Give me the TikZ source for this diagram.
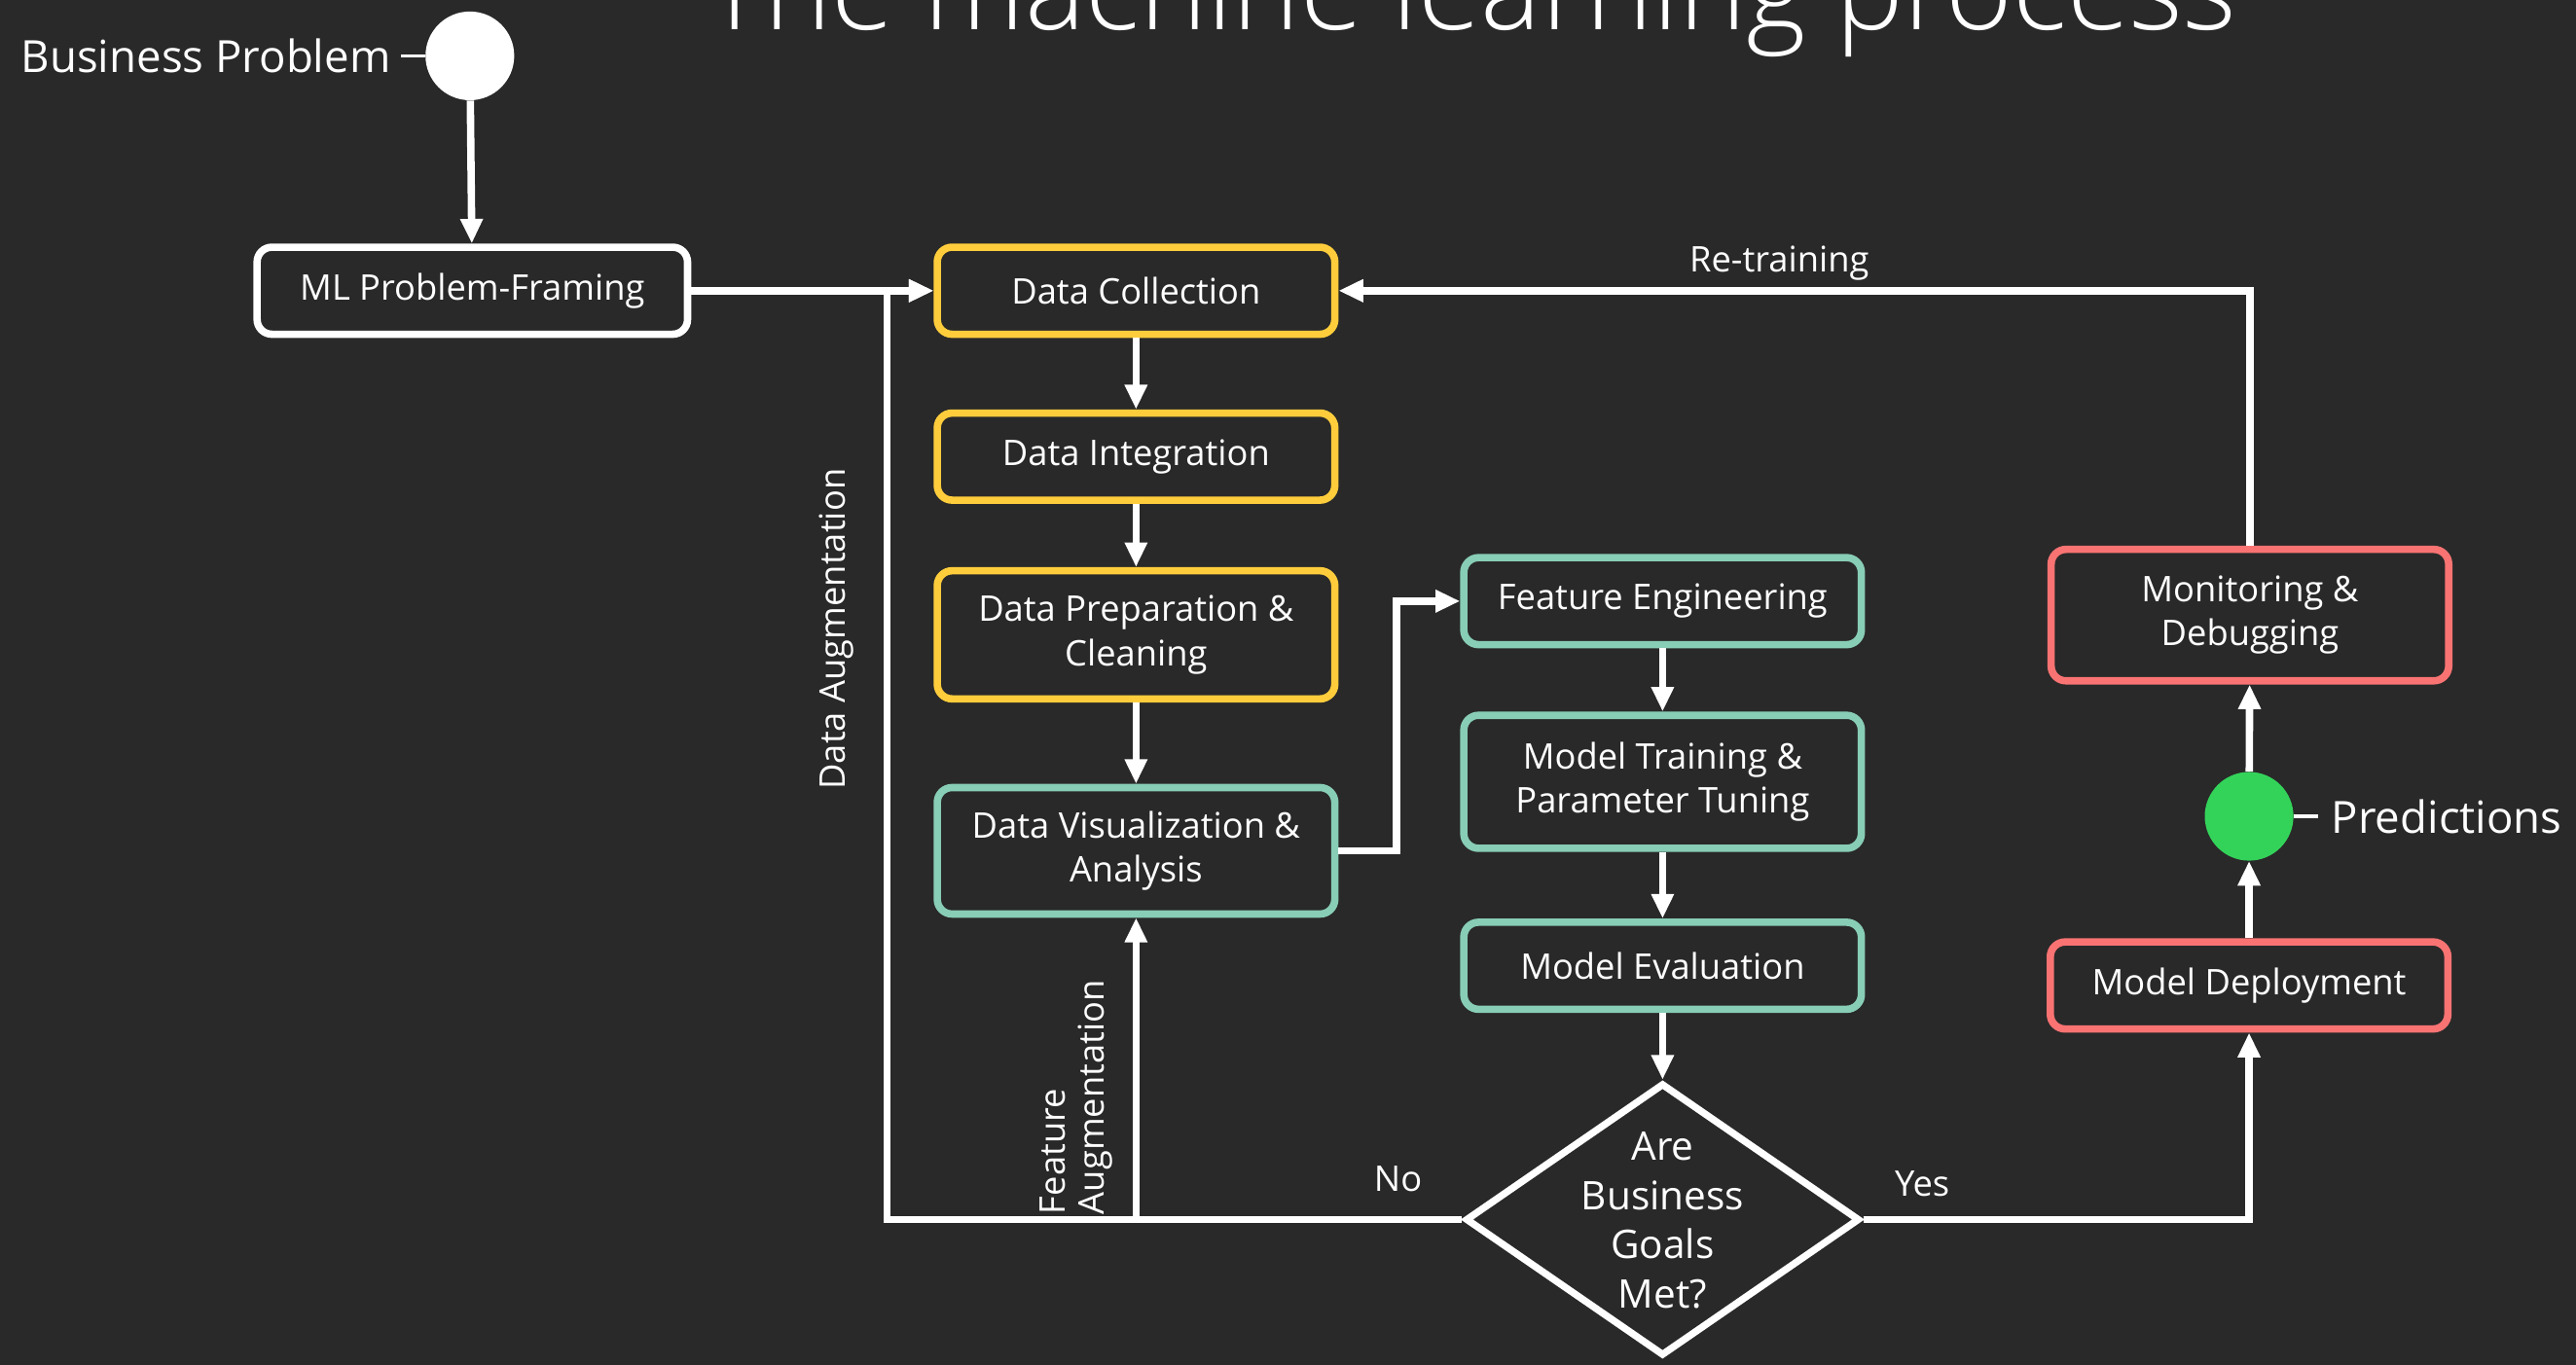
\documentclass[tikz,border=0pt]{standalone}
\usepackage{fontspec}
\setmainfont{Open Sans}
\IfFontExistsTF{Open Sans Light}{\newfontfamily\titlefont{Open Sans Light}}{\newfontfamily\titlefont{Open Sans}}
\usetikzlibrary{shapes.geometric,arrows.meta}
\definecolor{bg}{HTML}{292929}
\definecolor{ylw}{HTML}{FFCD3C}
\definecolor{tel}{HTML}{88CDB6}
\definecolor{rd}{HTML}{F97373}
\definecolor{grn}{HTML}{33D35A}
\begin{document}
\begin{tikzpicture}[x=1pt,y=-1pt,
  box/.style={draw=#1, line width=4.5pt, rounded corners=9pt, fill=bg, text=white,
    align=center, minimum width=242pt, inner sep=0pt, font=\fontsize{21.5}{27}\selectfont},
  conn/.style={white, line width=4.5pt, -{Triangle[length=15pt,width=13pt]}},
  lbl/.style={text=white, inner sep=0pt, font=\fontsize{21.5}{24}\selectfont},
  big/.style={text=white, inner sep=0pt, font=\fontsize{27}{30}\selectfont},
  dot/.style={circle, fill=#1, minimum size=54pt, inner sep=0pt}]
\path[use as bounding box] (0,0) rectangle (1568,831);
\clip (0,0) rectangle (1568,831);
\fill[bg] (0,0) rectangle (1568,831);

% title
\node[text=white, inner sep=0pt, anchor=base, font=\titlefont\fontsize{69.5}{74}\selectfont] (title) at (895,18) {The machine learning process};

% start
\node[dot=white] (bpc) at (286,34) {};
\node[big, anchor=east] (bpl) at (238,34) {Business Problem};
\draw[white, line width=2.2pt] ([xshift=6pt]bpl.east) -- (bpc.west);

% boxes
\node[box=white, minimum width=262pt, minimum height=53pt] (ml) at (287.5,177) {ML Problem-Framing};
\node[box=ylw, minimum height=53pt] (dc) at (691.5,177) {Data Collection};
\node[box=ylw, minimum height=53pt] (di) at (691.5,278) {Data Integration};
\node[box=ylw, minimum height=78pt] (dp) at (691.5,386.5) {Data Preparation \&\\Cleaning};
\node[box=tel, minimum height=77pt] (dv) at (691.5,518) {Data Visualization \&\\Analysis};
\node[box=tel, minimum height=53pt] (fe) at (1012,366) {Feature Engineering};
\node[box=tel, minimum height=81pt] (mt) at (1012,476) {Model Training \&\\Parameter Tuning};
\node[box=tel, minimum height=53pt] (me) at (1012,588) {Model Evaluation};
\node[box=rd, minimum height=53pt] (md) at (1369,600) {Model Deployment};
\node[box=rd, minimum height=80pt] (mon) at (1369.5,374.5) {Monitoring \&\\Debugging};

% decision
\node[diamond, draw=white, line width=4.3pt, fill=bg, minimum width=240pt, minimum height=166pt, inner sep=0pt] (dia) at (1012,742.5) {};
\node[text=white, align=center, inner sep=0pt, font=\fontsize{24}{30}\selectfont] (diat) at (1012,743) {Are\\Business\\Goals\\Met?};

% predictions
\node[dot=grn] (pred) at (1369,497) {};
\node[big, anchor=west] (predl) at (1419,497) {Predictions};
\draw[white, line width=2.2pt] (pred.east) -- ([xshift=-8pt]predl.west);

% connectors
\draw[conn] (bpc) -- (ml);
\draw[conn] (ml) -- (dc);
\draw[conn] (dc) -- (di);
\draw[conn] (di) -- (dp);
\draw[conn] (dp) -- (dv);
\coordinate (fej) at (850,518);
\draw[conn] (dv.east) -- (fej) |- (fe.west);
\draw[conn] (fe) -- (mt);
\draw[conn] (mt) -- (me);
\draw[conn] (me) -- (dia);
\coordinate (daj) at (540,742.5);
\draw[conn] (dia.west) -- (daj) |- (dc.west);
\coordinate (faj) at (dv.south |- dia.west);
\draw[conn] (faj) -- (dv.south);
\draw[conn] (dia.east) -| (md.south);
\draw[conn] (md) -- (pred);
\draw[conn] (pred) -- (mon);
\draw[conn] (mon.north) |- (dc.east);

% labels
\node[lbl] (lre) at (1083,160) {Re-training};
\node[lbl] (lno) at (851,718) {No};
\node[lbl] (lyes) at (1170,721) {Yes};
\node[lbl, rotate=90] (lda) at (509,383) {Data Augmentation};
\node[lbl, rotate=90, align=left] (lfa) at (655,668) {Feature\\Augmentation};
\end{tikzpicture}
\end{document}
